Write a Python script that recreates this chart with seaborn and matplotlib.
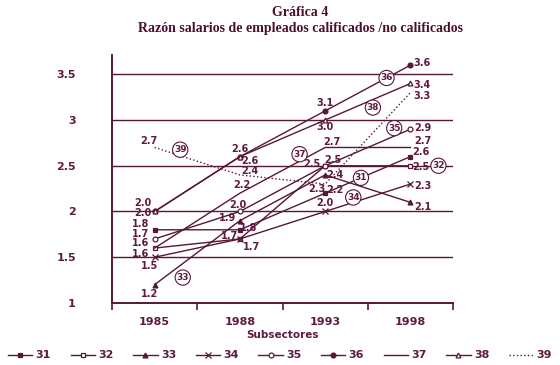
import numpy as np
import pandas as pd
import seaborn as sns
import matplotlib.pyplot as plt
from matplotlib.ticker import FixedLocator

# Datos
anios = ['1985', '1988', '1993', '1998']
s31 = [1.8, 1.8, 2.2, 2.6]
s32 = [1.6, 1.7, 2.5, 2.5]
s33 = [1.2, 1.9, 2.4, 2.1]
s34 = [1.5, 1.7, 2.0, 2.3]
s35 = [1.7, 2.0, 2.5, 2.9]
s36 = [2.0, 2.6, 3.1, 3.6]
s37 = [1.6, 2.2, 2.7, 2.7]
s38 = [2.0, 2.6, 3.0, 3.4]
s39 = [2.7, 2.4, 2.3, 3.3]
series = {'31': s31, '32': s32, '33': s33, '34': s34, '35': s35,
          '36': s36, '37': s37, '38': s38, '39': s39}

col = '#561836'
txt = '#5e1a40'

# estilo de cada serie: marcador, relleno, tipo de linea
estilo = {
    '31': ('s', col, '-'), '32': ('s', 'white', '-'), '33': ('^', col, '-'),
    '34': ('x', col, '-'), '35': ('o', 'white', '-'), '36': ('o', col, '-'),
    '37': (None, col, '-'), '38': ('^', 'white', '-'), '39': (None, col, ':'),
}
# desplazamiento (pixeles) de las etiquetas de valor
desp = {
    '31': [(-14, 6), (9, 2), (10, 3), (10, 5)],
    '32': [(-14, 5), (-10, 3), (-13, 2), (10, -1)],
    '33': [(-5, -9), (-12, 3), (10, 0), (12, -5)],
    '34': [(-5, -9), (12, -8), (0, 8), (12, -2)],
    '35': [(-14, 5), (-2, 6), (8, 6), (12, 1)],
    '36': [(-12, 8), (0, 8), (0, 8), (12, 2)],
    '37': [(-14, -6), (2, 8), (7, 5), (12, 6)],
    '38': [(-12, -2), (10, -4), (0, -7), (12, -2)],
    '39': [(-6, 6), (10, 4), (-8, -5), (12, -3)],
}
# etiqueta con circulo: (segmento, fraccion, dx, dy en pixeles)
circulos = {
    '36': (2, 0.72, 0, 0), '38': (2, 0.56, 0, -8), '35': (2, 0.81, 0, 8),
    '37': (1, 0.70, 0, 7), '31': (2, 0.42, 0, 0), '32': (3, 0.0, 28, 0),
    '34': (2, 0.33, 0, 5), '33': (0, 0.33, 0, -14), '39': (0, 0.30, 0, 6),
}

plt.rcParams['font.family'] = ['DejaVu Sans']
fig = plt.figure(figsize=(5.6, 3.65), dpi=100)
ax = fig.add_axes([0.2, 0.17, 0.609, 0.679])

x = np.arange(len(anios))
handles = []
for nombre, vals in series.items():
    m, fc, ls = estilo[nombre]
    df = pd.DataFrame({'x': x, 'v': vals})
    sns.lineplot(data=df, x='x', y='v', ax=ax, color=col, linewidth=1.0,
                 linestyle=ls, marker=m, markersize=3.5 if m != 'x' else 4,
                 markerfacecolor=fc, markeredgecolor=col, markeredgewidth=0.9)
    handles.append(ax.lines[-1])
    for i, v in enumerate(vals):
        dx, dy = desp[nombre][i]
        ax.annotate(f'{v:.1f}', (x[i], v), xytext=(dx, dy), textcoords='offset pixels',
                    ha='center', va='center', fontsize=7, color=txt,
                    fontweight='bold')
    seg, t, dx, dy = circulos[nombre]
    if seg < len(vals) - 1:
        px = x[seg] + t
        py = vals[seg] + t * (vals[seg + 1] - vals[seg])
    else:
        px, py = x[seg], vals[seg]
    ax.annotate(nombre, (px, py), xytext=(dx, dy), textcoords='offset pixels',
                ha='center', va='center', fontsize=6.5, color=txt, fontweight='bold',
                bbox=dict(boxstyle='circle,pad=0.15', fc='white', ec=col, lw=0.8))

ax.set_xlim(-0.5, 3.5)
ax.set_ylim(1, 3.71)
ax.set_yticks([1, 1.5, 2, 2.5, 3, 3.5])
ax.set_yticklabels(['1', '1.5', '2', '2.5', '3', '3.5'])
for yv in [1.5, 2, 2.5, 3, 3.5]:
    ax.axhline(yv, color=col, lw=1.0, zorder=0)
ax.xaxis.set_major_locator(FixedLocator([-0.5, 0.5, 1.5, 2.5, 3.5]))
ax.xaxis.set_major_formatter(plt.NullFormatter())
ax.xaxis.set_minor_locator(FixedLocator(x))
ax.set_xticklabels(anios, minor=True)
ax.tick_params(axis='x', which='major', length=5, width=1.2, color=col, direction='out')
ax.tick_params(axis='x', which='minor', length=0, pad=10, labelsize=8, labelcolor=txt)
ax.tick_params(axis='y', length=0, pad=26, labelsize=8, labelcolor=txt)
for lab in ax.get_xticklabels(minor=True) + ax.get_yticklabels():
    lab.set_fontweight('bold')
for s in ['top', 'right']:
    ax.spines[s].set_visible(False)
for s in ['left', 'bottom']:
    ax.spines[s].set_color(col)
    ax.spines[s].set_linewidth(1.4)
ax.set_xlabel('Subsectores', fontsize=7.5, color=txt, fontweight='bold', labelpad=2)
ax.set_ylabel('')

fig.text(0.536, 0.965, 'Gráfica 4', ha='center', va='center', fontsize=10,
         fontweight='bold', color='#4a0f2c', family=['Liberation Serif', 'DejaVu Serif'])
fig.text(0.536, 0.922, 'Razón salarios de empleados calificados /no calificados',
         ha='center', va='center', fontsize=10, fontweight='bold', color='#4a0f2c',
         family=['Liberation Serif', 'DejaVu Serif'])

fig.legend(handles, list(series.keys()), loc='lower center', bbox_to_anchor=(0.5, -0.015),
           ncol=9, frameon=False, handlelength=2.2, handletextpad=0.3,
           columnspacing=1.75, labelcolor=txt, prop={'weight': 'bold', 'size': 8})

fig.savefig('out.png', dpi=100)
